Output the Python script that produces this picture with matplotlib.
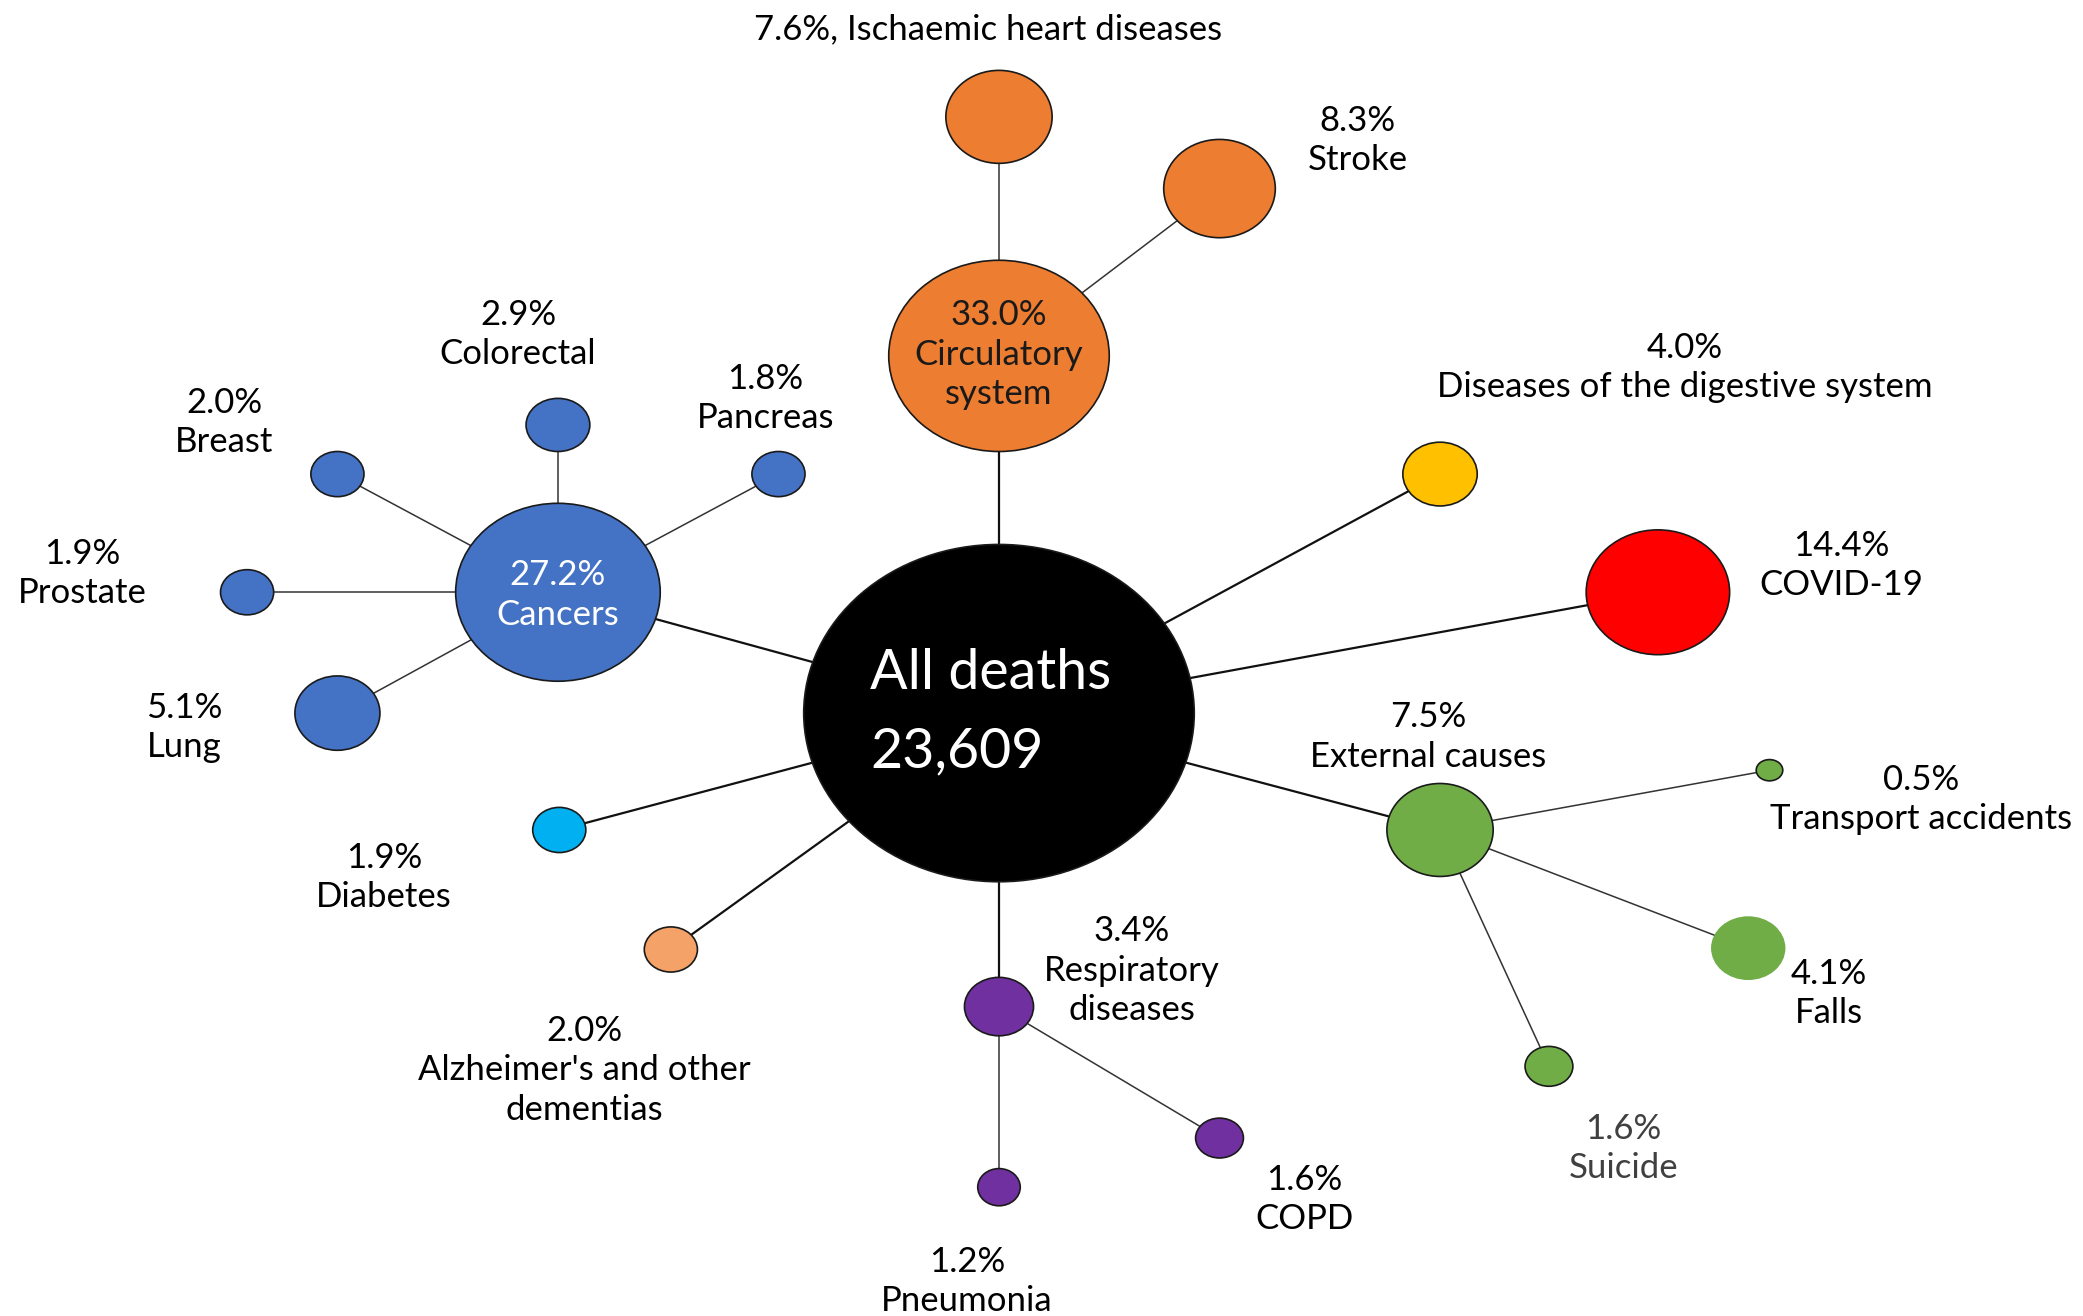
import matplotlib
matplotlib.use("Agg")
import matplotlib.pyplot as plt
from matplotlib.patches import Ellipse

plt.rcParams['font.family'] = ['Lato', 'DejaVu Sans']

# ---------------- data ----------------
total_deaths = 23609
names = ["All deaths", "Circulatory\nsystem", "Ischaemic heart diseases", "Stroke",
         "Cancers", "Colorectal", "Breast", "Pancreas", "Prostate", "Lung",
         "Diabetes", "Alzheimer's and other\ndementias", "Respiratory\ndiseases",
         "COPD", "Pneumonia", "Diseases of the digestive system", "COVID-19",
         "External causes", "Transport accidents", "Falls", "Suicide"]
pcts = [100.0, 33.0, 7.6, 8.3, 27.2, 2.9, 2.0, 1.8, 1.9, 5.1, 1.9, 2.0, 3.4,
        1.6, 1.2, 4.0, 14.4, 7.5, 0.5, 4.1, 1.6]
parents = [None, 0, 1, 1, 0, 4, 4, 4, 4, 4, 0, 0, 0, 12, 12, 0, 0, 0, 17, 17, 17]

# ---------------- layout (reference pixel units, 1568 x 991 canvas) ----------------
node_xy = [(752, 537), (752, 268), (752, 88), (918, 142), (420, 446), (420, 320),
           (254, 357), (586, 357), (186, 446), (254, 537), (421, 625), (505, 715),
           (752, 758), (918, 857), (752, 894), (1084, 357), (1248, 446),
           (1084, 625), (1332, 580), (1316, 714), (1166, 803)]
node_wh = [(294, 254), (166, 144), (80, 70), (84, 74), (154, 134), (48, 40),
           (40, 34), (40, 34), (40, 34), (64, 56), (40, 34), (40, 34), (52, 44),
           (36, 30), (32, 28), (56, 48), (108, 94), (80, 70), (20, 16), (56, 48),
           (36, 30)]
colors = ["#000000", "#ED7D31", "#ED7D31", "#ED7D31", "#4472C4", "#4472C4",
          "#4472C4", "#4472C4", "#4472C4", "#4472C4", "#00B0F0", "#F4A267",
          "#7030A0", "#7030A0", "#7030A0", "#FFC000", "#FF0000", "#70AD47",
          "#70AD47", "#70AD47", "#70AD47"]
label_xy = [None, None, (744, 22), (1022, 106), None, (390, 252), (169, 318),
            (576, 300), (62, 432), (139, 548), (289, 661), (440, 806),
            (852, 731), (982, 903), (728, 965), (1268, 277), (1386, 426),
            (1075, 555), (1446, 602), (1377, 748), (1222, 865)]
no_edge = {19}

W, H = 1568, 991
fig = plt.figure(figsize=(20.83, 13.16), dpi=100)
ax = fig.add_axes([0, 0, 1, 1])
ax.set_xlim(0, W)
ax.set_ylim(H, 0)
ax.axis('off')

# connectors
for i, p in enumerate(parents):
    if p is None:
        continue
    (x0, y0), (x1, y1) = node_xy[p], node_xy[i]
    lw = 1.6 if p == 0 else 1.1
    col = '#111111' if p == 0 else '#333333'
    ax.plot([x0, x1], [y0, y1], color=col, lw=lw, zorder=1, solid_capstyle='butt')

# bubbles
for i, ((x, y), (w, h)) in enumerate(zip(node_xy, node_wh)):
    ec = 'none' if i in no_edge else '#1a1a1a'
    ax.add_patch(Ellipse((x, y), w, h, facecolor=colors[i], edgecolor=ec,
                         lw=1.2, zorder=2))

FS = 25
LS = 1.28
# outer labels
for i in range(len(names)):
    if label_xy[i] is None:
        continue
    x, y = label_xy[i]
    if i == 2:
        txt = f"{pcts[i]:.1f}%, {names[i]}"
    else:
        txt = f"{pcts[i]:.1f}%\n{names[i]}"
    col = '#404040' if i == 20 else '#000000'
    ax.text(x, y, txt, ha='center', va='center', fontsize=FS, color=col,
            linespacing=LS, multialignment='center', zorder=3)

# inner labels
ax.text(node_xy[1][0], node_xy[1][1] - 1, f"{pcts[1]:.1f}%\n{names[1]}", ha='center',
        va='center', fontsize=FS, color='#1a1a1a', linespacing=LS, zorder=3)
ax.text(node_xy[4][0], node_xy[4][1] + 2, f"{pcts[4]:.1f}%\n{names[4]}", ha='center',
        va='center', fontsize=FS, color='white', linespacing=LS, zorder=3)

# centre
ax.text(655, 507, names[0], ha='left', va='center', fontsize=40, color='white', zorder=3)
ax.text(655, 566, f"{total_deaths:,}", ha='left', va='center', fontsize=40,
        color='white', zorder=3)

fig.savefig("out.png", dpi=100, facecolor='white')
